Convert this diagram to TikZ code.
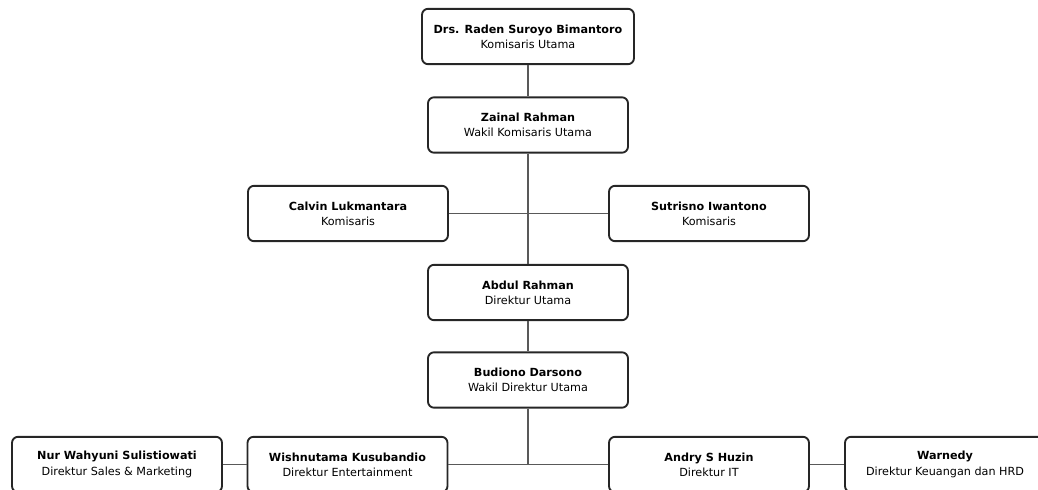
\documentclass[tikz,border=0pt]{standalone}
\usepackage{fontspec}
\setmainfont{DejaVu Sans}
\begin{document}
\begin{tikzpicture}[x=0.75pt,y=-0.75pt,
  orgbox/.style={draw=black!85, line width=1.4pt, rounded corners=4.5pt, fill=white,
    minimum width=150pt, minimum height=41.5pt, align=center, inner sep=0pt,
    font=\fontsize{8.4pt}{11.4pt}\selectfont},
  link/.style={draw=black!65, line width=1.4pt}]
\useasboundingbox (0,0) rectangle (1038,489);
\clip (0,0) rectangle (1038,489);
\node[orgbox, minimum width=159pt] (b1) at (528,36.5) {\textbf{Drs. Raden Suroyo Bimantoro}\\Komisaris Utama};
\node[orgbox] (b2) at (528,125) {\textbf{Zainal Rahman}\\Wakil Komisaris Utama};
\node[orgbox] (calvin) at (348,213.5) {\textbf{Calvin Lukmantara}\\Komisaris};
\node[orgbox] (sutrisno) at (709,213.5) {\textbf{Sutrisno Iwantono}\\Komisaris};
\node[orgbox] (abdul) at (528,292.5) {\textbf{Abdul Rahman}\\Direktur Utama};
\node[orgbox] (budiono) at (528,380) {\textbf{Budiono Darsono}\\Wakil Direktur Utama};
\node[orgbox, minimum width=157.5pt] (nur) at (117,464.5) {\textbf{Nur Wahyuni Sulistiowati}\\Direktur Sales \& Marketing};
\node[orgbox] (wish) at (347.5,464.5) {\textbf{Wishnutama Kusubandio}\\Direktur Entertainment};
\node[orgbox] (andry) at (709,464.5) {\textbf{Andry S Huzin}\\Direktur IT};
\node[orgbox] (warn) at (945,464.5) {\textbf{Warnedy}\\Direktur Keuangan dan HRD};
\coordinate (jc) at (528,464.5);
\draw[link] (b1.south) -- (b2.north);
\draw[link] (b2.south) -- (abdul.north);
\draw[link] (calvin.east) -- (sutrisno.west);
\draw[link] (abdul.south) -- (budiono.north);
\draw[link] (budiono.south) -- (jc);
\draw[link] (wish.east) -- (andry.west);
\draw[link] (nur.east) -- (wish.west);
\draw[link] (andry.east) -- (warn.west);
\end{tikzpicture}
\end{document}
